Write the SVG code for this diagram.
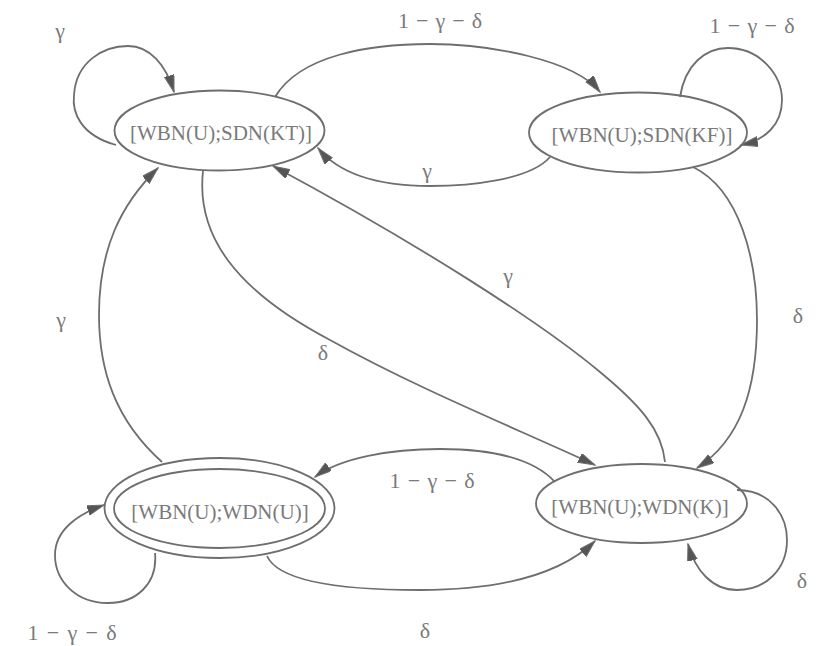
<svg xmlns="http://www.w3.org/2000/svg" width="820" height="646" viewBox="0 0 820 646">
<style>
.node ellipse{fill:none;stroke:#6e6e6e;stroke-width:1.8}
.node text{font-family:"Liberation Serif","Times New Roman",serif;font-size:21px;fill:#7a7a7a;text-anchor:middle}
.edge path{fill:none;stroke:#6e6e6e;stroke-width:1.8;marker-end:url(#arr)}
.lbl{font-family:"Liberation Serif","Times New Roman",serif;font-size:22px;fill:#7a7a7a;text-anchor:middle}
</style>
<defs>
<marker id="arr" markerUnits="userSpaceOnUse" markerWidth="20" markerHeight="12" refX="17" refY="5" orient="auto">
<path d="M0,0 L17,5 L0,10 z" fill="#555" stroke="#6e6e6e" stroke-width="1"/>
</marker>
</defs>
<rect width="820" height="646" fill="#fff"/>
<g id="edges" class="edge">
<path id="e_kt_self" d="M116,145 C80,135 72,112 74,95 C76,62 103,46 128,46 C150,46 166,65 174,92"/>
<path id="e_kt_kf" d="M275,97 C300,55 370,44 430,44 C490,44 575,60 600,92"/>
<path id="e_kf_kt" d="M550,157 C530,180 470,186 430,186 C380,186 340,175 318,148"/>
<path id="e_kf_self" d="M680,97 C685,65 705,48 728,48 C760,48 782,75 782,100 C782,125 765,140 741,145"/>
<path id="e_kf_k" d="M693,167 C740,190 757,260 757,320 C757,390 740,440 697,468"/>
<path id="e_k_kt" d="M665,462 C662,430 640,405 600,372 C540,322 420,245 273,166"/>
<path id="e_kt_k" d="M203,171 C196,235 235,290 330,340 C420,390 520,430 595,465"/>
<path id="e_u_kt" d="M162,462 C115,420 99,370 99,315 C99,250 120,205 158,168"/>
<path id="e_k_u" d="M555,482 C530,455 480,449 440,449 C390,449 340,458 315,477"/>
<path id="e_u_self" d="M155,553 C158,585 135,603 108,603 C75,603 55,580 55,555 C55,530 78,514 104,505"/>
<path id="e_u_k" d="M267,556 C280,585 360,590 420,590 C500,590 560,575 595,541"/>
<path id="e_k_self" d="M737,490 C770,490 787,515 787,540 C787,570 765,590 737,590 C712,590 695,570 688,544"/>
</g>
<g id="labels">
<text class="lbl" x="60" y="38">γ</text>
<text class="lbl" x="440" y="28" textLength="84" lengthAdjust="spacing">1 − γ − δ</text>
<text class="lbl" x="752" y="33" textLength="85" lengthAdjust="spacing">1 − γ − δ</text>
<text class="lbl" x="427" y="178">γ</text>
<text class="lbl" x="508" y="283">γ</text>
<text class="lbl" x="323" y="360">δ</text>
<text class="lbl" x="798" y="323">δ</text>
<text class="lbl" x="61" y="327">γ</text>
<text class="lbl" x="432" y="488" textLength="85" lengthAdjust="spacing">1 − γ − δ</text>
<text class="lbl" x="802" y="588">δ</text>
<text class="lbl" x="425" y="638">δ</text>
<text class="lbl" x="72" y="640" textLength="89" lengthAdjust="spacing">1 − γ − δ</text>
</g>
<g id="n_kt" class="node">
<ellipse cx="219.5" cy="130.5" rx="105" ry="40"/>
<text x="221" y="140">[WBN(U);SDN(KT)]</text>
</g>
<g id="n_kf" class="node">
<ellipse cx="638" cy="132.5" rx="109" ry="40"/>
<text x="642" y="142">[WBN(U);SDN(KF)]</text>
</g>
<g id="n_u" class="node">
<ellipse cx="219.5" cy="508" rx="115" ry="50"/>
<ellipse cx="219.5" cy="508.5" rx="105.5" ry="39.5"/>
<text x="220" y="519">[WBN(U);WDN(U)]</text>
</g>
<g id="n_k" class="node">
<ellipse cx="641.5" cy="503.5" rx="105.5" ry="39.5"/>
<text x="640" y="514">[WBN(U);WDN(K)]</text>
</g>
</svg>
